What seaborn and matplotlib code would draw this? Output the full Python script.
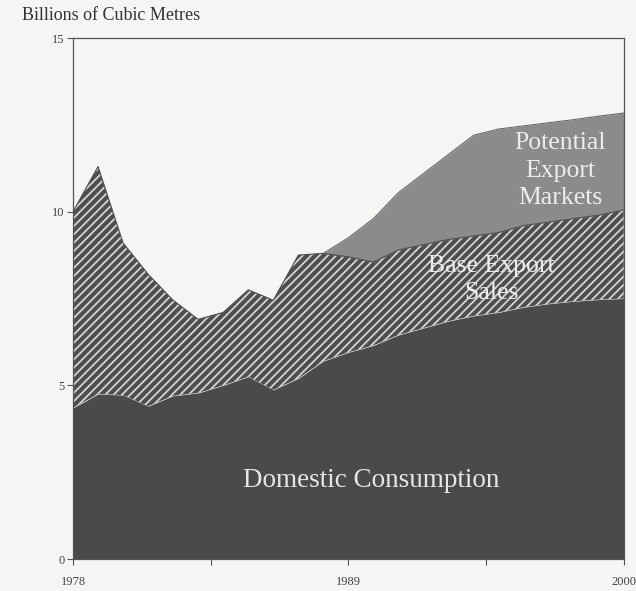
import numpy as np
import pandas as pd
import matplotlib
matplotlib.use("Agg")
import matplotlib.pyplot as plt
import seaborn as sns

years = list(range(1978, 2001))
domestic = [4.35, 4.75, 4.72, 4.40, 4.70, 4.78, 5.00, 5.25, 4.87, 5.20, 5.70, 5.95,
            6.15, 6.45, 6.65, 6.85, 7.00, 7.10, 7.25, 7.35, 7.42, 7.47, 7.50]
base_export = [5.65, 6.55, 4.38, 3.80, 2.75, 2.12, 2.10, 2.50, 2.58, 3.55, 3.10, 2.75,
               2.40, 2.45, 2.40, 2.35, 2.30, 2.30, 2.35, 2.35, 2.38, 2.43, 2.55]
potential = [0, 0, 0, 0, 0, 0, 0, 0, 0, 0, 0, 0.55,
             1.25, 1.65, 2.05, 2.45, 2.90, 2.98, 2.87, 2.86, 2.85, 2.85, 2.79]
x_tick_labels = ["1978", "", "1989", "", "2000"]
x_ticks = [1978, 1983.5, 1989, 1994.5, 2000]
y_ticks = [0, 5, 10, 15]

df = pd.DataFrame({"year": years, "domestic": domestic,
                   "base": base_export, "potential": potential})
df["base_top"] = df["domestic"] + df["base"]
df["total"] = df["base_top"] + df["potential"]

sns.set_theme(style="white")
plt.rcParams["font.family"] = ["Liberation Serif", "DejaVu Serif"]
plt.rcParams["hatch.linewidth"] = 1.3
plt.rcParams["hatch.color"] = "#d4d4d2"

paper = "#f5f5f3"
fig = plt.figure(figsize=(6.36, 5.91), dpi=100, facecolor=paper)
ax = fig.add_axes([0.1148, 0.0541, 0.866, 0.8816])
ax.set_facecolor(paper)

ax.fill_between(df["year"], 0, df["domestic"], color="#4a4a4a", lw=0, zorder=2)
ax.fill_between(df["year"], df["domestic"], df["base_top"], facecolor="#4e4e4e",
                edgecolor="#d4d4d2", hatch="////", lw=0, zorder=2)
pot = df[df["year"] >= 1988]
ax.fill_between(pot["year"], pot["base_top"], pot["total"], color="#8b8b8b",
                lw=0, zorder=2)

sns.lineplot(data=df, x="year", y="base_top", ax=ax, color="#505050", lw=0.8, zorder=3)
sns.lineplot(data=pot, x="year", y="total", ax=ax, color="#6a6a6a", lw=0.8, zorder=3)

ax.set_xlim(1978, 2000)
ax.set_ylim(0, 15)
ax.set_xticks(x_ticks)
ax.set_xticklabels(x_tick_labels)
ax.set_yticks(y_ticks)
ax.set_xlabel("")
ax.set_ylabel("")
ax.tick_params(axis="both", which="both", direction="out", length=4, width=0.8,
               color="#555555", labelcolor="#444444", labelsize=9,
               bottom=True, left=True)
ax.tick_params(axis="x", pad=8)
ax.tick_params(axis="y", pad=2)
for s in ax.spines.values():
    s.set_visible(True)
    s.set_color("#555555")
    s.set_linewidth(0.9)

fig.text(0.035, 0.988, "Billions of Cubic Metres", ha="left", va="top",
         fontsize=13, color="#333333")

ax.text(1989.9, 2.27, "Domestic Consumption", ha="center", va="center",
        fontsize=19.5, color="#e6e6e4", zorder=5)
ax.text(1997.45, 11.18, "Potential\nExport\nMarkets", ha="center", va="center",
        fontsize=18.5, color="#ececea", linespacing=1.32, zorder=5)
ax.text(1994.7, 8.05, "Base Export\nSales", ha="center", va="center",
        fontsize=18.5, color="#ececea", linespacing=1.28, zorder=5)

fig.savefig("out.png", dpi=100, facecolor=paper)
